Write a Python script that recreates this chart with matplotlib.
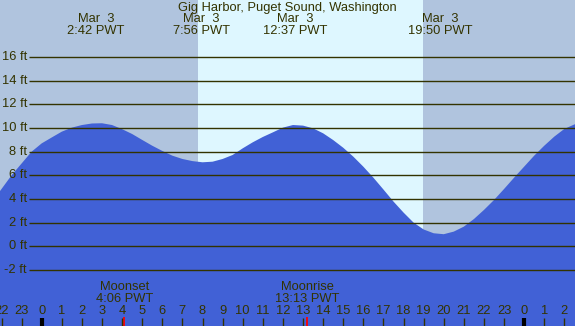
import numpy as np
import matplotlib
matplotlib.use('Agg')
import matplotlib.pyplot as plt

plt.rcParams['font.family'] = ['Liberation Sans', 'DejaVu Sans']

# Tide height (ft) read every half hour, hours relative to midnight Mar 3
hours = np.arange(-2.5, 27.01, 0.5)
heights = [3.7, 4.84, 6.0, 7.0, 8.0, 8.7, 9.2, 9.69, 10.03, 10.25,
           10.38, 10.4, 10.25, 9.9, 9.49, 8.99, 8.5, 8.06, 7.66, 7.38,
           7.2, 7.1, 7.15, 7.38, 7.72, 8.28, 8.79, 9.24, 9.63, 10.03,
           10.25, 10.2, 9.97, 9.55, 8.98, 8.33, 7.58, 6.73, 5.8, 4.8,
           3.78, 2.85, 2.0, 1.42, 1.1, 1.02, 1.24, 1.66, 2.3, 3.07,
           3.91, 4.84, 5.8, 6.73, 7.66, 8.5, 9.27, 9.92, 10.3, 10.55]

# high / low tide events (top labels)
event_hours = [2 + 42/60, 7 + 56/60, 12 + 37/60, 19 + 50/60]
event_labels = ['2:42 PWT', '7:56 PWT', '12:37 PWT', '19:50 PWT']

# sun (day shading)
sunrise = 7.78
sunset = 18.97

# moon events (bottom labels)
moon_hours = [4 + 6/60, 13 + 13/60]
moon_names = ['Moonset', 'Moonrise']
moon_times = ['4:06 PWT', '13:13 PWT']

ft_ticks = [-2, 0, 2, 4, 6, 8, 10, 12, 14, 16]
hour_ticks = list(range(-2, 27))

night_col = '#B0C4DE'
day_col = '#DEF7FF'
water_col = '#4161D6'
fg = '#333300'
fs = 9.3

W, H = 575, 326
fig = plt.figure(figsize=(W / 100, H / 100), dpi=100)
ax = fig.add_axes([0, 0, 1, 1])
x0, x1 = -2.075, 26.53
y0, y1 = -6.74, 20.82
ax.set_xlim(x0, x1)
ax.set_ylim(y0, y1)
ax.axis('off')

ax.axvspan(x0, sunrise, color=night_col, lw=0)
ax.axvspan(sunrise, sunset, color=day_col, lw=0)
ax.axvspan(sunset, x1, color=night_col, lw=0)

ax.fill_between(hours, heights, y0 - 5, color=water_col, lw=0, zorder=2)

# grid lines + labels
grid_start = -0.632
for f in ft_ticks:
    ax.plot([grid_start, x1], [f, f], color=fg, lw=1.0, zorder=3,
            solid_capstyle='butt')
    ax.text(grid_start - 0.1, f, f'{f} ft', ha='right', va='center',
            fontsize=fs, color=fg, zorder=4)

tr = ax.get_xaxis_transform()


def fy(px):
    return 1 - px / H


fig.text(0.5, fy(8), 'Gig Harbor, Puget Sound, Washington', ha='center',
         va='center', fontsize=fs, color=fg)
for h, lab in zip(event_hours, event_labels):
    ax.text(h, fy(19.5), 'Mar  3', transform=tr, ha='center', va='center',
            fontsize=fs, color=fg, zorder=5)
    ax.text(h, fy(31.5), lab, transform=tr, ha='center', va='center',
            fontsize=fs, color=fg, zorder=5)

for h, name, t in zip(moon_hours, moon_names, moon_times):
    ax.text(h, fy(287.5), name, transform=tr, ha='center', va='center',
            fontsize=fs, color=fg, zorder=5)
    ax.text(h, fy(299.5), t, transform=tr, ha='center', va='center',
            fontsize=fs, color=fg, zorder=5)
    ax.plot([h, h], [fy(317), 0], transform=tr, color='red', lw=1.3,
            zorder=6, solid_capstyle='butt')

for h in hour_ticks:
    ax.text(h, fy(311.5), str(h % 24), transform=tr, ha='center',
            va='center', fontsize=fs, color=fg, zorder=5)
    if h % 24 == 0:
        ax.plot([h, h], [fy(318), 0], transform=tr, color='black', lw=3,
                zorder=6, solid_capstyle='butt')
    else:
        ax.plot([h, h], [fy(318), 0], transform=tr, color=fg, lw=1,
                zorder=6, solid_capstyle='butt')

fig.savefig('out.png', dpi=100)
